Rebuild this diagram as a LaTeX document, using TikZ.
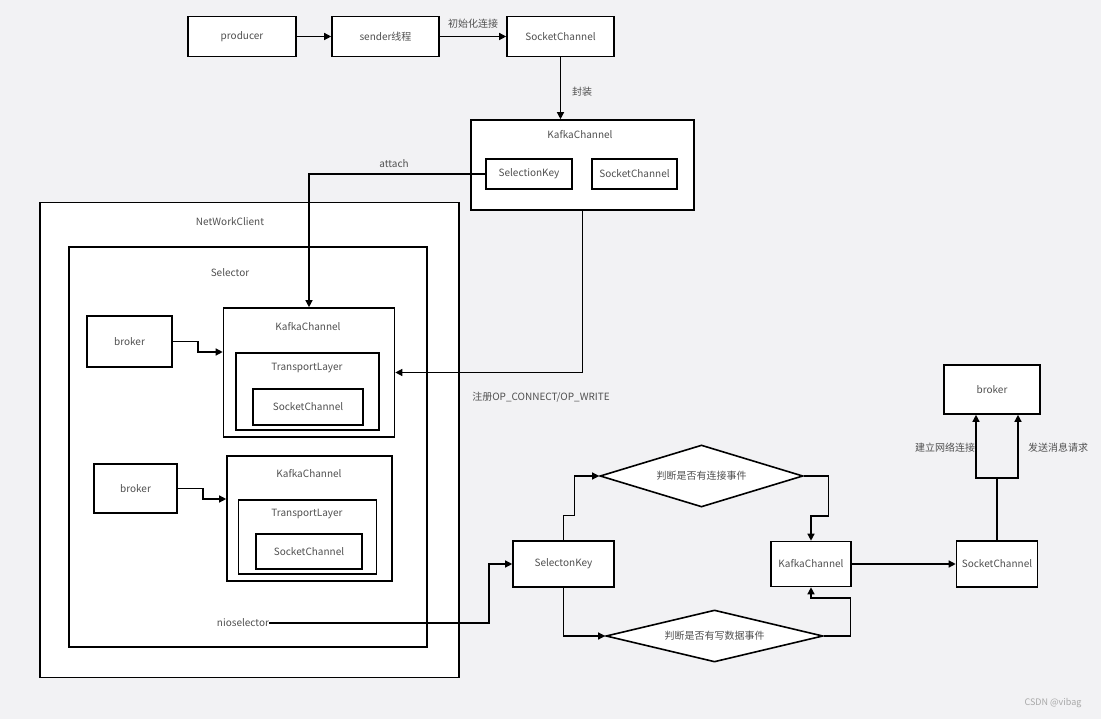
\documentclass[tikz,border=0pt]{standalone}
\usepackage{fontspec}
\setmainfont{Noto Sans CJK SC}
\usetikzlibrary{shapes.geometric,arrows.meta}
\definecolor{bg}{HTML}{F2F2F4}
\definecolor{txt}{HTML}{505050}
\definecolor{wm}{HTML}{A8A8A8}
\begin{document}
\begin{tikzpicture}[x=1pt,y=-1pt,
  box/.style={draw=black,fill=white,line width=1.6pt,inner sep=0pt,text=txt,font=\fontsize{10}{12}\selectfont},
  lbl/.style={text=txt,font=\fontsize{10}{12}\selectfont,inner sep=1pt},
  dia/.style={diamond,draw=black,fill=white,line width=1.6pt,inner sep=0pt,text=txt,font=\fontsize{10}{12}\selectfont},
  conn/.style={line width=1.3pt,-{Triangle[length=7pt,width=7pt]}},
  plainline/.style={line width=1.3pt}]
\useasboundingbox[fill=bg] (0,0) rectangle (1101,719);

% top row
\node[box,minimum width=108,minimum height=40] (prod) at (242,36.5) {producer};
\node[box,minimum width=107,minimum height=40] (send) at (385.5,36.5) {sender线程};
\node[box,minimum width=107,minimum height=40] (sc0) at (560.5,36.5) {SocketChannel};

% KafkaChannel top
\node[box,minimum width=223,minimum height=90] (kct) at (582.5,165) {};
\node[lbl] (kcttitle) at (580,135) {KafkaChannel};
\node[box,minimum width=86,minimum height=30] (sk) at (529,174) {SelectionKey};
\node[box,minimum width=85,minimum height=30] (sct) at (634.5,174) {SocketChannel};

% NetWorkClient
\node[box,minimum width=419,minimum height=475] (nwc) at (249.5,440) {};
\node[lbl] (nwctitle) at (230,222) {NetWorkClient};
\node[box,minimum width=358,minimum height=400] (slc) at (248,447) {};
\node[lbl] (slctitle) at (230,273) {Selector};

\node[box,minimum width=85,minimum height=51] (bk1) at (129.5,341.5) {broker};
\node[box,minimum width=171,minimum height=129] (kc1) at (309,372.5) {};
\node[lbl] (kc1title) at (308,327) {KafkaChannel};
\node[box,minimum width=143,minimum height=77] (tl1) at (307.5,391.5) {};
\node[lbl] (tl1title) at (307,368) {TransportLayer};
\node[box,minimum width=110,minimum height=36] (sc1) at (308,407) {SocketChannel};

\node[box,minimum width=83,minimum height=49] (bk2) at (135.5,488.5) {broker};
\node[box,minimum width=165,minimum height=125] (kc2) at (309.5,518.5) {};
\node[lbl] (kc2title) at (309,474) {KafkaChannel};
\node[box,minimum width=138,minimum height=74] (tl2) at (307.5,537) {};
\node[lbl] (tl2title) at (307,514) {TransportLayer};
\node[box,minimum width=106,minimum height=35] (sc2) at (309,551.5) {SocketChannel};

\node[lbl,inner sep=0pt] (nio) at (243,623) {nioselector};

% right flow
\node[box,minimum width=101,minimum height=46] (sel) at (563.5,564) {SelectonKey};
\node[dia,aspect=3.3,minimum width=203,minimum height=62] (d1) at (701.5,476) {判断是否有连接事件};
\node[dia,aspect=4.2,minimum width=217,minimum height=52] (d2) at (714.5,636) {判断是否有写数据事件};
\node[box,minimum width=80,minimum height=45] (kc3) at (811,564) {KafkaChannel};
\node[box,minimum width=81,minimum height=46] (sc3) at (997,564) {SocketChannel};
\node[box,minimum width=96,minimum height=49] (bkr) at (992,389.5) {broker};

% connectors
\draw[conn] (prod) -- (send);
\draw[conn] (send) -- (sc0);
\node[lbl] (l1) at (473,24) {初始化连接};
\draw[conn] (sc0.south) -- (sc0.south |- kct.north);
\node[lbl] (l2) at (582,92) {封装};

\draw[conn] (sk.west) -| (kc1.north);
\node[lbl] (l3) at (394,164) {attach};
\draw[conn] (kct.south) |- (kc1.east);
\node[lbl] (l4) at (541,397) {注册OP\_CONNECT/OP\_WRITE};

\coordinate (j1) at (198,352);
\draw[conn] (bk1.east) -| (j1) -- (j1 -| kc1.west);
\coordinate (j2) at (203,499);
\draw[conn] (bk2.east) -| (j2) -- (j2 -| kc2.west);

\coordinate (j3) at (489,564);
\draw[conn] (nio.east) -| (j3) -- (sel.west);

\draw[conn] (sel.north) -- ++(0,-25) -- ++(11,0) |- (d1.west);
\draw[conn] (d1.east) -- ++(25,0) -- ++(0,40) -| (kc3.north);
\draw[conn] (sel.south) |- (d2.west);
\draw[conn] (d2.east) -- ++(27,0) -- ++(0,-38) -| (kc3.south);
\draw[conn] (kc3) -- (sc3);

\coordinate (sp) at (997,478);
\coordinate (bl) at (976,478);
\coordinate (br) at (1018,478);
\draw[plainline] (sc3.north) -- (sp);
\draw[conn] (sp) -- (bl) -- (bl |- bkr.south);
\draw[conn] (sp) -- (br) -- (br |- bkr.south);
\node[lbl] (l5) at (945,448) {建立网络连接};
\node[lbl] (l6) at (1058,448) {发送消息请求};

\node[text=wm,font=\fontsize{9}{11}\selectfont] (wmk) at (1053,703) {CSDN @vibag};
\end{tikzpicture}
\end{document}
